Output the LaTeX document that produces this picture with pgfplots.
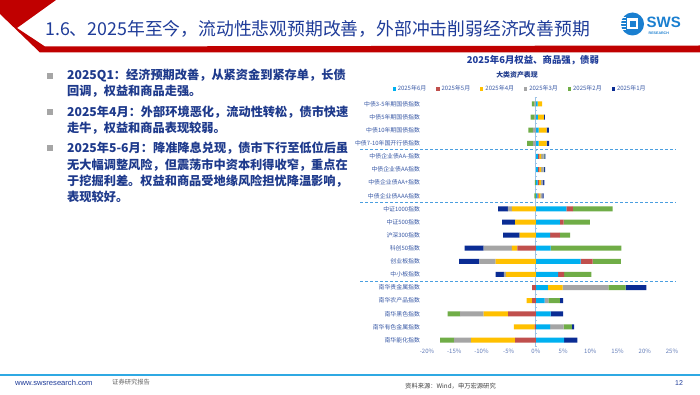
\documentclass[border=0pt]{standalone}
\usepackage{pgfplots}
\pgfplotsset{compat=1.18}
\usepackage{pgfplotstable}
\usepackage{fontspec}
\setmainfont{Noto Sans CJK SC}
\newfontfamily\lsans{Liberation Sans}
\XeTeXlinebreaklocale "zh"
\XeTeXlinebreakskip=0pt plus 1pt
\definecolor{cJun}{HTML}{00B0F0}
\definecolor{cMay}{HTML}{C0504D}
\definecolor{cApr}{HTML}{FFC000}
\definecolor{cMar}{HTML}{A5A5A5}
\definecolor{cFeb}{HTML}{70AD47}
\definecolor{cJan}{HTML}{0A2C94}
\definecolor{titleblue}{HTML}{1F3C99}
\definecolor{txtblue}{HTML}{1E3A8C}
\definecolor{swsred}{HTML}{C00000}
\definecolor{axblue}{HTML}{9DC3E6}
\definecolor{dashblue}{HTML}{4A9FE0}
\definecolor{lblblue}{HTML}{3A5AA6}
\definecolor{logoblue}{HTML}{1A7FD0}
\definecolor{footcyan}{HTML}{2FA9E3}

\pgfplotstableread{
idx m6 m5 m4 m3 m2 m1
1 0.30 0.00 0.85 -0.25 -0.50 0.00
2 0.35 0.00 1.10 -0.25 -0.70 0.20
3 0.50 0.00 1.45 -0.55 -0.85 0.45
4 0.50 0.00 1.45 -0.50 -1.10 0.50
5 0.35 0.30 0.30 0.45 0.15 0.20
6 0.35 0.30 0.30 0.45 0.10 0.20
7 0.30 0.30 0.30 0.45 -0.20 0.20
8 0.25 0.25 0.30 0.40 -0.30 0.20
9 5.60 1.20 -4.40 -0.73 7.30 -1.83
10 4.40 0.70 -3.80 0.00 4.80 -2.40
11 2.60 1.80 -3.00 0.00 1.90 -3.00
12 2.70 -3.40 -1.00 -5.20 13.00 -3.50
13 8.20 2.20 -7.40 -3.00 5.20 -3.70
14 4.10 1.10 -5.50 -0.40 5.00 -1.50
15 2.20 -0.70 2.70 8.40 3.20 3.80
16 1.60 -0.70 -1.00 0.70 2.10 0.60
17 2.70 -5.10 -4.50 -4.30 -2.30 2.30
18 2.60 -0.25 -3.80 2.50 1.50 0.40
19 5.20 -3.80 -8.10 -3.10 -2.60 2.40
}\data

\pgfplotsset{
  myax/.style={
    scale only axis, width=245pt, height=249.2pt,
    at={(427pt,47.4pt)}, anchor=south west,
    xmin=-20, xmax=25, ymin=0.5, ymax=19.5, y dir=reverse,
    xbar stacked, bar width=5pt,
    axis line style={draw=none}, tick style={draw=none},
    clip=false,
  },
  lg/.style={legend image code/.code={\fill[##1] (0pt,-1.6pt) rectangle (3.2pt,1.6pt);}},
}

\begin{document}
\begin{tikzpicture}[x=1pt,y=1pt]
\useasboundingbox (0,0) rectangle (700,394);
\fill[white] (0,0) rectangle (700,394);
% header chevron and bar
\fill[swsred] (0,394) -- (56,394) -- (17,366) -- (45,347.5) -- (700,348.5) -- (700,341.5) -- (40,341.5) -- (0,380) -- cycle;
\node[anchor=west, text=titleblue, font=\fontsize{17.8}{19}\selectfont, inner sep=0pt] at (45,365) {1.6、2025年至今，流动性悲观预期改善，外部冲击削弱经济改善预期};
% logo
\fill[logoblue] (632.5,370) circle (11.5);
\foreach \yy in {364.5,367.5,370.5,373.5,376.5} {\fill[white] (619,\yy-0.8) rectangle (626,\yy+0.8);}
\fill[white] (627,364.5) rectangle (638,375.5);
\fill[logoblue] (629.5,367) rectangle (635.5,373);
\node[anchor=west, text=logoblue, font=\lsans\bfseries\fontsize{15}{15}\selectfont, inner sep=0pt] at (646.5,371.5) {SWS};
\node[anchor=west, text=logoblue, font=\lsans\bfseries\fontsize{3.6}{4}\selectfont, inner sep=0pt] at (648.5,361) {RESEARCH};

% bullets
\foreach \yy in {318.3,282.3,245.7} {\fill[black!35] (47,\yy-3) rectangle (53,\yy+3);}
\begin{scope}[every node/.style={anchor=west, inner sep=0pt, text=txtblue, font=\bfseries\fontsize{12.2}{13}\selectfont}]
\node at (67,318.3) {\makebox[276pt][s]{2025Q1：经济预期改善，从紧资金到紧存单，长债}};
\node at (67,303) {回调，权益和商品走强。};
\node at (67,282.3) {\makebox[276pt][s]{2025年4月：外部环境恶化，流动性转松，债市快速}};
\node at (67,266.3) {走牛，权益和商品表现较弱。};
\node at (67,245.7) {\makebox[276pt][s]{2025年5-6月：降准降息兑现，债市下行至低位后虽}};
\node at (67,229) {\makebox[276pt][s]{无大幅调整风险，但震荡市中资本利得收窄，重点在}};
\node at (67,213) {\makebox[276pt][s]{于挖掘利差。权益和商品受地缘风险担忧降温影响，}};
\node at (67,197.3) {表现较好。};
\end{scope}

% chart titles
\node[text=titleblue, font=\bfseries\fontsize{9.4}{10}\selectfont, inner sep=0pt] at (533,334) {2025年6月权益、商品强，债弱};
\node[text=txtblue, font=\bfseries\fontsize{6.9}{7}\selectfont, inner sep=0pt] at (517,319.5) {大类资产表现};

% positive parts
\begin{axis}[myax,
  ytick={1,...,19},
  yticklabels={中债3-5年期国债指数,中债5年期国债指数,中债10年期国债指数,中债7-10年国开行债指数,中债企业债AA-指数,中债企业债AA指数,中债企业债AA+指数,中债企业债AAA指数,中证1000指数,中证500指数,沪深300指数,科创50指数,创业板指数,中小板指数,南华贵金属指数,南华农产品指数,南华黑色指数,南华有色金属指数,南华能化指数},
  yticklabel style={font=\fontsize{5.9}{6}\selectfont, text=lblblue, xshift=-3.5pt},
  xtick={-20,-15,...,25},
  xticklabel={\pgfmathprintnumber{\tick}\%},
  xticklabel style={font=\fontsize{6}{6}\selectfont, text=lblblue!80, yshift=1pt},
  /pgf/number format/assume math mode=true,
  legend style={at={(0.38,1.034)}, anchor=center, draw=none, fill=none,
    font=\fontsize{6}{7}\selectfont, text=lblblue, inner sep=0pt,
    /tikz/every even column/.append style={column sep=8pt}},
  legend columns=6, legend cell align=left,
]
\addplot[fill=cJun, draw=none, lg] table[x expr={max(\thisrow{m6},0)}, y=idx]{\data};
\addplot[fill=cMay, draw=none, lg] table[x expr={max(\thisrow{m5},0)}, y=idx]{\data};
\addplot[fill=cApr, draw=none, lg] table[x expr={max(\thisrow{m4},0)}, y=idx]{\data};
\addplot[fill=cMar, draw=none, lg] table[x expr={max(\thisrow{m3},0)}, y=idx]{\data};
\addplot[fill=cFeb, draw=none, lg] table[x expr={max(\thisrow{m2},0)}, y=idx]{\data};
\addplot[fill=cJan, draw=none, lg] table[x expr={max(\thisrow{m1},0)}, y=idx]{\data};
\legend{2025年6月,2025年5月,2025年4月,2025年3月,2025年2月,2025年1月}
\end{axis}

% negative parts
\begin{axis}[myax, xtick=\empty, ytick=\empty]
\addplot[fill=cJun, draw=none] table[x expr={min(\thisrow{m6},0)}, y=idx]{\data};
\addplot[fill=cMay, draw=none] table[x expr={min(\thisrow{m5},0)}, y=idx]{\data};
\addplot[fill=cApr, draw=none] table[x expr={min(\thisrow{m4},0)}, y=idx]{\data};
\addplot[fill=cMar, draw=none] table[x expr={min(\thisrow{m3},0)}, y=idx]{\data};
\addplot[fill=cFeb, draw=none] table[x expr={min(\thisrow{m2},0)}, y=idx]{\data};
\addplot[fill=cJan, draw=none] table[x expr={min(\thisrow{m1},0)}, y=idx]{\data};
\draw[axblue, line width=0.8pt] (axis cs:0,0.5) -- (axis cs:0,19.5);
\pgfplotsinvokeforeach{0.5,1.5,...,19.5}{\draw[axblue, line width=0.6pt] (axis cs:-0.25,#1) -- (axis cs:0.25,#1);}
\draw[dashblue, line width=0.9pt, dash pattern=on 3pt off 2pt] (axis cs:-32.3,4.5) -- (axis cs:25.7,4.5);
\draw[dashblue, line width=0.9pt, dash pattern=on 3pt off 2pt] (axis cs:-32.3,8.5) -- (axis cs:25.7,8.5);
\draw[dashblue, line width=0.9pt, dash pattern=on 3pt off 2pt] (axis cs:-32.3,14.5) -- (axis cs:25.7,14.5);
\end{axis}

% footer
\draw[footcyan, line width=1.6pt] (0,19) -- (700,19);
\node[anchor=west, inner sep=0pt, text=titleblue, font=\lsans\fontsize{7.6}{8}\selectfont] at (15,11) {www.swsresearch.com};
\node[anchor=west, inner sep=0pt, text=black!60, font=\fontsize{6.3}{7}\selectfont] at (112,11.5) {证券研究报告};
\node[anchor=west, inner sep=0pt, text=black!75, font=\fontsize{6.3}{7}\selectfont] at (405,8) {资料来源：Wind，申万宏源研究};
\node[anchor=west, inner sep=0pt, text=titleblue, font=\lsans\fontsize{7}{8}\selectfont] at (675,11) {12};
\end{tikzpicture}
\end{document}
